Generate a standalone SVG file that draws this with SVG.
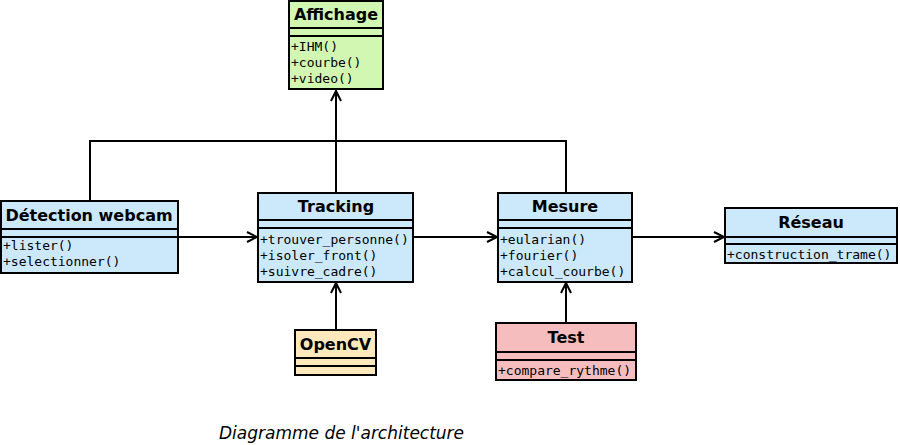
<svg xmlns="http://www.w3.org/2000/svg" width="900" height="445" viewBox="0 0 900 445">
<style>
.box{stroke:#000;stroke-width:2}
.blue{fill:#cce8fb}
.green{fill:#d2f7b2}
.yellow{fill:#fde9bb}
.pink{fill:#f5bdbd}
.sep{stroke:#000;stroke-width:2;fill:none}
.t{font-family:"DejaVu Sans",sans-serif;font-weight:bold;font-size:16px;text-anchor:middle;fill:#000}
.m{font-family:"DejaVu Sans Mono",monospace;font-size:13px;fill:#000}
.cap{font-family:"DejaVu Sans",sans-serif;font-style:italic;font-size:17px;fill:#000}
.c{stroke:#000;stroke-width:2;fill:none}
</style>
<defs>
<marker id="arr" markerUnits="userSpaceOnUse" markerWidth="14" markerHeight="14" refX="11" refY="6" orient="auto">
<path d="M1,1 L11,6 L1,11" fill="none" stroke="#000" stroke-width="2"/>
</marker>
</defs>
<rect width="900" height="445" fill="#fff"/>
<g id="connectors">
<path class="c" d="M90,201 V141 H566 V193"/>
<path class="c" d="M336,193 V91" marker-end="url(#arr)"/>
<path class="c" d="M178,237 H257" marker-end="url(#arr)"/>
<path class="c" d="M413,237 H497" marker-end="url(#arr)"/>
<path class="c" d="M632,237 H724" marker-end="url(#arr)"/>
<path class="c" d="M336,330 V283" marker-end="url(#arr)"/>
<path class="c" d="M566,323 V283" marker-end="url(#arr)"/>
</g>
<g id="affichage">
<rect class="box green" x="289" y="1" width="94" height="88"/>
<path class="sep" d="M289,28 H383 M289,36 H383"/>
<text class="t" x="336" y="20">Affichage</text>
<text class="m" x="291" y="51">+IHM()</text>
<text class="m" x="291" y="67">+courbe()</text>
<text class="m" x="291" y="83">+video()</text>
</g>
<g id="detection">
<rect class="box blue" x="1" y="201" width="177" height="72"/>
<path class="sep" d="M1,229 H178 M1,237 H178"/>
<text class="t" x="89" y="221">Détection webcam</text>
<text class="m" x="3" y="250">+lister()</text>
<text class="m" x="3" y="266">+selectionner()</text>
</g>
<g id="tracking">
<rect class="box blue" x="258" y="193" width="155" height="89"/>
<path class="sep" d="M258,220 H413 M258,228 H413"/>
<text class="t" x="336" y="212">Tracking</text>
<text class="m" x="260" y="244">+trouver_personne()</text>
<text class="m" x="260" y="260">+isoler_front()</text>
<text class="m" x="260" y="276">+suivre_cadre()</text>
</g>
<g id="mesure">
<rect class="box blue" x="498" y="193" width="134" height="89"/>
<path class="sep" d="M498,220 H632 M498,228 H632"/>
<text class="t" x="565" y="212">Mesure</text>
<text class="m" x="500" y="244">+eularian()</text>
<text class="m" x="500" y="260">+fourier()</text>
<text class="m" x="500" y="276">+calcul_courbe()</text>
</g>
<g id="reseau">
<rect class="box blue" x="725" y="208" width="172" height="55"/>
<path class="sep" d="M725,237 H897 M725,244 H897"/>
<text class="t" x="811" y="228">Réseau</text>
<text class="m" x="727" y="259">+construction_trame()</text>
</g>
<g id="opencv">
<rect class="box yellow" x="295" y="330" width="81" height="45"/>
<path class="sep" d="M295,358 H376 M295,366 H376"/>
<text class="t" x="335.5" y="350">OpenCV</text>
</g>
<g id="test">
<rect class="box pink" x="496" y="323" width="140" height="57"/>
<path class="sep" d="M496,352 H636 M496,360 H636"/>
<text class="t" x="566" y="343">Test</text>
<text class="m" x="498" y="375">+compare_rythme()</text>
</g>
<text class="cap" x="219" y="439">Diagramme de l'architecture</text>
</svg>
